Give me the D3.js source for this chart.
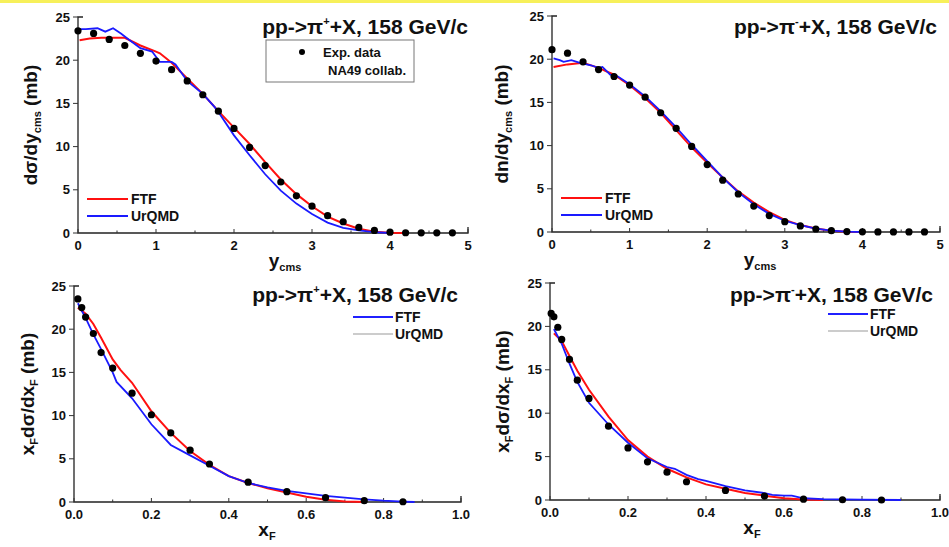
<!DOCTYPE html>
<html>
<head>
<meta charset="utf-8">
<script src="https://cdn.jsdelivr.net/npm/d3@7"></script>
<style>
  body { margin: 0; background: #fff; }
  svg text { font-family: "Liberation Sans", Arial, sans-serif; font-weight: bold; fill: #111; }
</style>
</head>
<body>
<svg id="canvas" width="949" height="547"></svg>
<script>
// ---- data ----
// rapidity panels
const yGrid = [0, 0.2, 0.4, 0.6, 0.8, 1.0, 1.2, 1.4, 1.6, 1.8, 2.0, 2.2, 2.4, 2.6, 2.8, 3.0, 3.2, 3.4, 3.6, 3.8, 4.0, 4.2, 4.4, 4.6, 4.8];
const expPlusY = [23.4, 23.1, 22.4, 21.7, 20.8, 19.9, 18.9, 17.6, 16.0, 14.1, 12.1, 9.9, 7.8, 5.9, 4.3, 3.1, 2.0, 1.3, 0.65, 0.3, 0.1, 0.03, 0.02, 0.02, 0.02];
const expMinusY = [21.1, 20.7, 19.7, 18.8, 18.0, 17.0, 15.6, 13.8, 12.0, 9.9, 7.8, 6.0, 4.4, 3.0, 1.9, 1.2, 0.7, 0.35, 0.15, 0.05, 0.02, 0.01, 0.01, 0.01, 0.01];

const ftfPlusYx = [0.02, 0.15, 0.3, 0.45, 0.6, 0.8, 1.0, 1.05, 1.2, 1.4, 1.6, 1.8, 2.0, 2.2, 2.4, 2.6, 2.8, 3.0, 3.2, 3.4, 3.6, 3.8, 4.0, 4.2];
const ftfPlusY = [22.3, 22.5, 22.6, 22.6, 22.6, 21.7, 21.0, 20.8, 19.7, 17.9, 16.1, 14.1, 12.2, 10.3, 8.2, 6.2, 4.5, 3.1, 1.9, 1.1, 0.5, 0.15, 0.02, 0];
const urqPlusYx = [0.0, 0.1, 0.25, 0.35, 0.45, 0.55, 0.65, 0.8, 0.95, 1.0, 1.05, 1.2, 1.25, 1.4, 1.6, 1.75, 1.8, 2.0, 2.2, 2.4, 2.6, 2.8, 3.0, 3.2, 3.4, 3.6, 3.8, 4.0];
const urqPlusY = [23.6, 23.6, 23.7, 23.3, 23.7, 23.1, 22.4, 21.4, 21.0, 20.4, 19.8, 19.8, 19.5, 17.6, 16.1, 14.6, 14.0, 11.3, 9.0, 6.8, 4.9, 3.4, 2.2, 1.2, 0.6, 0.3, 0.1, 0];

const ftfMinusYx = [0.02, 0.2, 0.4, 0.6, 0.8, 1.0, 1.2, 1.4, 1.6, 1.8, 2.0, 2.2, 2.4, 2.6, 2.8, 3.0, 3.2, 3.4, 3.6, 3.8, 4.0];
const ftfMinusY = [19.1, 19.4, 19.6, 19.0, 18.2, 17.0, 15.5, 13.8, 11.8, 9.8, 8.0, 6.3, 4.7, 3.4, 2.3, 1.4, 0.8, 0.4, 0.15, 0.03, 0];
const urqMinusYx = [0.02, 0.1, 0.15, 0.25, 0.35, 0.5, 0.6, 0.65, 0.75, 0.85, 1.0, 1.2, 1.4, 1.6, 1.8, 2.0, 2.2, 2.4, 2.6, 2.8, 3.0, 3.2, 3.4, 3.6, 3.8, 4.0];
const urqMinusY = [20.1, 19.9, 19.7, 19.9, 19.6, 19.3, 19.0, 19.1, 18.2, 18.0, 17.1, 15.7, 14.0, 12.1, 10.1, 8.2, 6.3, 4.6, 3.2, 2.1, 1.3, 0.8, 0.4, 0.15, 0.05, 0];

// Feynman-x panels
const xfPlusExp = [0.01, 0.02, 0.03, 0.05, 0.07, 0.1, 0.15, 0.2, 0.25, 0.3, 0.35, 0.45, 0.55, 0.65, 0.75, 0.85];
const expPlusXf = [23.5, 22.5, 21.4, 19.5, 17.3, 15.5, 12.6, 10.1, 8.0, 6.0, 4.4, 2.3, 1.2, 0.5, 0.15, 0.03];
const ftfPlusXfx = [0.01, 0.03, 0.05, 0.07, 0.1, 0.12, 0.15, 0.2, 0.25, 0.3, 0.35, 0.4, 0.45, 0.5, 0.55, 0.6, 0.65, 0.7, 0.75];
const ftfPlusXf = [22.5, 21.8, 20.6, 19.0, 16.5, 15.3, 13.8, 10.5, 8.0, 5.9, 4.3, 3.0, 2.2, 1.6, 1.1, 0.6, 0.25, 0.05, 0];
const urqPlusXfx = [0.01, 0.03, 0.05, 0.07, 0.1, 0.11, 0.15, 0.2, 0.25, 0.3, 0.35, 0.4, 0.45, 0.5, 0.55, 0.6, 0.65, 0.7, 0.75, 0.8, 0.85, 0.88];
const urqPlusXf = [23.0, 21.3, 19.4, 17.7, 15.0, 13.9, 12.0, 9.0, 6.6, 5.4, 4.2, 3.0, 2.2, 1.7, 1.3, 1.0, 0.7, 0.5, 0.3, 0.15, 0.05, 0];

const xfMinusExp = [0.003, 0.01, 0.02, 0.03, 0.05, 0.07, 0.1, 0.15, 0.2, 0.25, 0.3, 0.35, 0.45, 0.55, 0.65, 0.75, 0.85];
const expMinusXf = [21.5, 21.1, 19.9, 18.5, 16.2, 13.8, 11.7, 8.5, 6.0, 4.4, 3.2, 2.1, 1.1, 0.45, 0.1, 0.03, 0];
const ftfMinusXfx = [0.01, 0.03, 0.05, 0.07, 0.1, 0.15, 0.2, 0.25, 0.3, 0.35, 0.4, 0.45, 0.5, 0.55, 0.6, 0.65, 0.7];
const ftfMinusXf = [19.2, 18.3, 16.6, 14.9, 12.7, 9.6, 6.9, 5.0, 3.6, 2.6, 1.8, 1.3, 0.8, 0.5, 0.2, 0.05, 0];
const urqMinusXfx = [0.01, 0.03, 0.05, 0.07, 0.1, 0.15, 0.2, 0.25, 0.3, 0.32, 0.35, 0.38, 0.4, 0.45, 0.5, 0.55, 0.57, 0.6, 0.62, 0.65, 0.7, 0.8, 0.9];
const urqMinusXf = [19.7, 18.0, 15.7, 13.6, 11.2, 8.7, 6.6, 4.8, 3.8, 3.6, 2.9, 2.4, 2.2, 1.6, 1.1, 0.8, 0.6, 0.5, 0.5, 0.2, 0.1, 0.05, 0];

const yTicks = [0, 5, 10, 15, 20, 25];
const yRapTicks = [0, 1, 2, 3, 4, 5];
const xfTicks = [0, 0.2, 0.4, 0.6, 0.8, 1.0];

const zip = (xs, ys) => xs.map((x, i) => [x, ys[i]]);

const svg = d3.select("#canvas");

// thin yellow strip at the top
svg.append("rect").attr("x", 0).attr("y", 0).attr("width", 949).attr("height", 3).attr("fill", "#f7f05a");

const panels = [
  {
    box: [78, 468, 17, 233], xDom: [0, 5], xTicks: yRapTicks, fmt: d3.format("d"), minor: 0.5,
    exp: zip(yGrid, expPlusY), ftf: zip(ftfPlusYx, ftfPlusY), urq: zip(urqPlusYx, urqPlusY),
    charge: "+", ylab: ["d\u03C3/dy", "cms", " (mb)"], xlab: ["y", "cms"], xlabX: 285, ylabX: 37,
    titleX: 468, titleY: 34, legend: "rap", expBox: true
  },
  {
    box: [552, 940, 16, 232], xDom: [0, 5], xTicks: yRapTicks, fmt: d3.format("d"), minor: 0.5,
    exp: zip(yGrid, expMinusY), ftf: zip(ftfMinusYx, ftfMinusY), urq: zip(urqMinusYx, urqMinusY),
    charge: "-", ylab: ["dn/dy", "cms", " (mb)"], xlab: ["y", "cms"], xlabX: 760, ylabX: 508,
    titleX: 937, titleY: 34, legend: "rap"
  },
  {
    box: [74, 461, 286, 502], xDom: [0, 1], xTicks: xfTicks, fmt: d3.format(".1f"), minor: 0.1,
    exp: zip(xfPlusExp, expPlusXf), ftf: zip(ftfPlusXfx, ftfPlusXf), urq: zip(urqPlusXfx, urqPlusXf),
    charge: "+", ylab: null, xlab: ["x", "F"], xlabX: 267, ylabX: 34,
    titleX: 458, titleY: 302, legend: "xf"
  },
  {
    box: [550, 940, 283, 500], xDom: [0, 1], xTicks: xfTicks, fmt: d3.format(".1f"), minor: 0.1,
    exp: zip(xfMinusExp, expMinusXf), ftf: zip(ftfMinusXfx, ftfMinusXf), urq: zip(urqMinusXfx, urqMinusXf),
    charge: "-", ylab: null, xlab: ["x", "F"], xlabX: 752, ylabX: 509,
    titleX: 933, titleY: 302, legend: "xf"
  }
];

panels.forEach((p) => {
  const [x0, x1, y0, y1] = p.box;
  const x = d3.scaleLinear().domain(p.xDom).range([x0, x1]);
  const y = d3.scaleLinear().domain([0, 25]).range([y1, y0]);
  const g = svg.append("g");

  // axis lines
  g.append("path")
    .attr("d", `M${x0 + 5},${y0}H${x0}V${y1}H${x1}V${y1 - 6}`)
    .attr("fill", "none").attr("stroke", "#222").attr("stroke-width", 1.3);

  // y ticks (outward) and labels
  g.selectAll(".yt").data(yTicks).enter().append("line")
    .attr("x1", x0 - 5).attr("x2", x0).attr("y1", (d) => y(d)).attr("y2", (d) => y(d))
    .attr("stroke", "#333").attr("stroke-width", 1);
  g.selectAll(".yl").data(yTicks).enter().append("text")
    .attr("x", x0 - 8).attr("y", (d) => y(d) + 4.5)
    .attr("text-anchor", "end").attr("font-size", 13)
    .text((d) => d);

  // x ticks (inward), minor ticks, labels
  const minors = d3.range(p.xDom[0] + p.minor, p.xDom[1], p.minor * 2);
  g.selectAll(".xm").data(minors).enter().append("line")
    .attr("x1", (d) => x(d)).attr("x2", (d) => x(d)).attr("y1", y1).attr("y2", y1 - 2.5)
    .attr("stroke", "#333").attr("stroke-width", 1);
  g.selectAll(".xt").data(p.xTicks).enter().append("line")
    .attr("x1", (d) => x(d)).attr("x2", (d) => x(d)).attr("y1", y1).attr("y2", y1 - 4)
    .attr("stroke", "#333").attr("stroke-width", 1);
  g.selectAll(".xl").data(p.xTicks).enter().append("text")
    .attr("x", (d) => x(d)).attr("y", y1 + 17)
    .attr("text-anchor", "middle").attr("font-size", 13)
    .text((d) => p.fmt(d));

  // x axis title with subscript
  const xt = g.append("text").attr("x", p.xlabX).attr("y", y1 + 34)
    .attr("text-anchor", "middle").attr("font-size", 19);
  xt.append("tspan").text(p.xlab[0]);
  xt.append("tspan").attr("font-size", 11).attr("dy", 4).text(p.xlab[1]);

  // y axis title rotated
  const yc = (y0 + y1) / 2;
  const yt = g.append("text")
    .attr("transform", `translate(${p.ylabX},${yc}) rotate(-90)`)
    .attr("text-anchor", "middle").attr("font-size", 19);
  if (p.ylab) {
    yt.append("tspan").text(p.ylab[0]);
    yt.append("tspan").attr("font-size", 11).attr("dy", 4).text(p.ylab[1]);
    yt.append("tspan").attr("dy", -4).text(p.ylab[2]);
  } else {
    yt.append("tspan").text("x");
    yt.append("tspan").attr("font-size", 11).attr("dy", 4).text("F");
    yt.append("tspan").attr("dy", -4).text("d\u03C3/dx");
    yt.append("tspan").attr("font-size", 11).attr("dy", 4).text("F");
    yt.append("tspan").attr("dy", -4).text(" (mb)");
  }

  // title
  const tt = g.append("text").attr("x", p.titleX).attr("y", p.titleY)
    .attr("text-anchor", "end").attr("font-size", 21);
  tt.append("tspan").text("pp->\u03C0");
  tt.append("tspan").attr("font-size", 11).attr("dy", -9).text(p.charge);
  tt.append("tspan").attr("dy", 9).text("+X, 158 GeV/c");

  // curves
  const line = d3.line().x((d) => x(d[0])).y((d) => y(d[1]));
  g.append("path").datum(p.ftf).attr("d", line)
    .attr("fill", "none").attr("stroke", "#ff1010").attr("stroke-width", 2);
  g.append("path").datum(p.urq).attr("d", line)
    .attr("fill", "none").attr("stroke", "#1a1aff").attr("stroke-width", 1.8);

  // experimental points
  g.selectAll(".pt").data(p.exp).enter().append("circle")
    .attr("cx", (d) => x(d[0])).attr("cy", (d) => y(d[1])).attr("r", 3.6)
    .attr("fill", "#000");

  // legends
  if (p.legend === "rap") {
    const lx = x0 + 9;
    const rows = [["FTF", "#ff1010", 2], ["UrQMD", "#1a1aff", 1.8]];
    rows.forEach((r, i) => {
      const ly = y1 - 34 + i * 17;
      g.append("line").attr("x1", lx).attr("x2", lx + 41).attr("y1", ly).attr("y2", ly)
        .attr("stroke", r[1]).attr("stroke-width", r[2]);
      g.append("text").attr("x", lx + 44).attr("y", ly + 5).attr("font-size", 14).text(r[0]);
    });
  } else {
    const lx = p.titleX - 105;
    const rows = [["FTF", "#2020ff", 2], ["UrQMD", "#999", 1.2]];
    rows.forEach((r, i) => {
      const ly = y0 + 31 + i * 17;
      g.append("line").attr("x1", lx).attr("x2", lx + 40).attr("y1", ly).attr("y2", ly)
        .attr("stroke", r[1]).attr("stroke-width", r[2]);
      g.append("text").attr("x", lx + 42).attr("y", ly + 5).attr("font-size", 14).text(r[0]);
    });
  }

  if (p.expBox) {
    g.append("rect").attr("x", 266).attr("y", 40).attr("width", 148).attr("height", 42)
      .attr("fill", "#fff").attr("stroke", "#777").attr("stroke-width", 1);
    g.append("circle").attr("cx", 302).attr("cy", 52).attr("r", 3).attr("fill", "#000");
    g.append("text").attr("x", 323).attr("y", 57).attr("font-size", 13).attr("font-weight", "normal").text("Exp. data");
    g.append("text").attr("x", 328).attr("y", 75).attr("font-size", 13).attr("font-weight", "normal").text("NA49 collab.");
  }
});
</script>
</body>
</html>
